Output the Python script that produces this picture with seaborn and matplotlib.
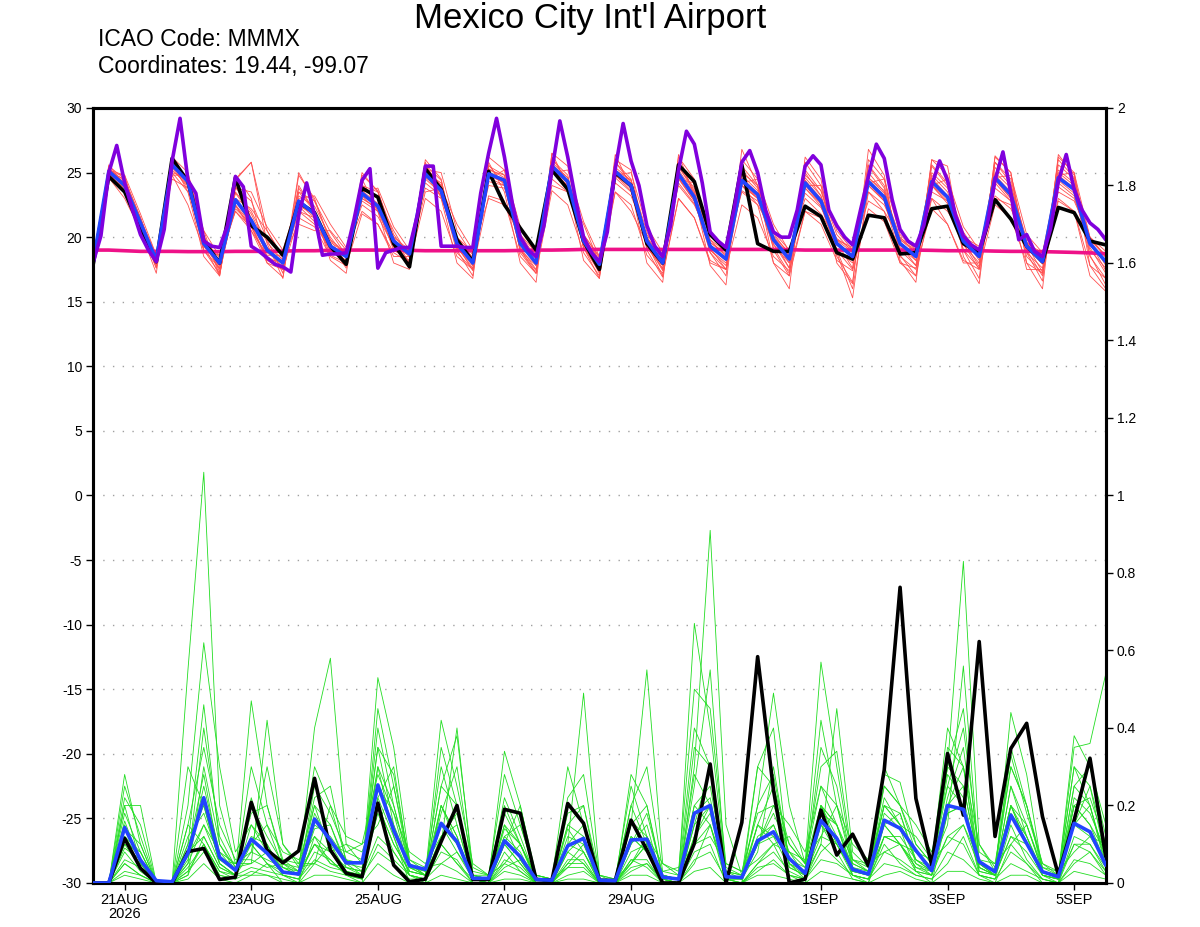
import numpy as np
import pandas as pd
import matplotlib
matplotlib.use('Agg')
import matplotlib.pyplot as plt
import seaborn as sns

# ---------------- data ----------------
start = '2026-08-20 12:00'
times6 = pd.date_range(start, periods=65, freq='6h')
times3 = pd.date_range(start, periods=129, freq='3h')

temp_control = [17.8, 24.7, 23.5, 20.7, 18.1, 26.1, 24.3, 19.7, 18.0, 24.6, 20.9, 20.0, 18.6, 22.7, 21.9, 19.3,
                17.9, 23.8, 23.1, 19.5, 17.7, 25.3, 23.7, 19.8, 18.1, 25.1, 22.5, 20.7, 19.0, 25.2, 23.7, 19.7,
                17.5, 25.0, 24.0, 19.5, 18.0, 25.6, 24.3, 20.2, 19.0, 25.6, 19.5, 18.9, 18.9, 22.4, 21.6, 18.8,
                18.3, 21.7, 21.5, 18.7, 18.8, 22.2, 22.4, 19.5, 18.8, 22.9, 21.4, 19.3, 18.1, 22.3, 21.9, 19.7, 19.4]

temp_mean = [18.0, 25.1, 24.0, 21.1, 18.2, 25.6, 24.3, 19.5, 18.0, 22.9, 21.3, 19.0, 18.0, 22.8, 21.8, 19.3,
             18.5, 23.4, 22.4, 19.7, 18.7, 24.9, 23.6, 19.5, 18.0, 24.9, 24.4, 19.5, 18.0, 25.5, 24.3, 19.7,
             17.9, 25.1, 24.0, 19.7, 18.0, 24.9, 23.1, 19.3, 18.3, 24.4, 23.3, 19.8, 18.3, 24.2, 22.8, 19.5,
             18.5, 24.3, 23.1, 19.5, 18.5, 24.3, 23.1, 19.7, 18.5, 24.6, 23.3, 19.3, 18.1, 24.6, 23.7, 19.5, 18.1]

temp_hires = [18.0, 20.1, 25.0, 27.1, 24.2, 22.1, 20.2, 19.0, 18.1, 20.6, 25.9, 29.2, 24.4, 23.4, 19.7, 19.3,
              19.2, 20.9, 24.7, 23.9, 19.3, 18.9, 18.4, 17.9, 17.7, 17.3, 21.7, 24.2, 21.7, 18.6, 18.7, 18.7,
              18.8, 21.4, 24.4, 25.3, 17.6, 18.8, 19.0, 19.2, 19.2, 21.7, 25.5, 25.5, 19.3, 19.3, 19.3, 19.2,
              19.2, 23.4, 26.5, 29.2, 26.2, 22.6, 20.0, 19.0, 18.5, 20.9, 25.2, 29.0, 26.2, 22.9, 20.0, 18.8,
              18.1, 20.4, 25.3, 28.8, 25.9, 24.0, 20.9, 19.3, 18.5, 20.9, 25.2, 28.2, 27.2, 24.2, 20.4, 19.7,
              19.2, 22.1, 25.8, 26.7, 25.0, 22.1, 20.4, 20.0, 20.0, 22.1, 25.5, 26.3, 25.6, 22.1, 20.9, 20.0,
              19.4, 22.1, 24.7, 27.2, 26.1, 22.9, 20.6, 19.7, 19.3, 20.9, 24.0, 25.9, 24.4, 21.7, 20.1, 19.4,
              19.0, 20.9, 24.4, 26.6, 23.4, 19.8, 20.2, 18.9, 18.5, 20.6, 24.3, 26.4, 23.7, 22.1, 21.1, 20.6, 19.8]

temp_clim = [19.0, 19.0, 18.95, 18.9, 18.9, 18.9, 18.88, 18.88, 18.88, 18.9, 18.9, 18.9, 18.92, 18.95, 18.95, 18.98,
             19.0, 19.0, 19.0, 19.0, 18.98, 18.95, 18.95, 18.95, 18.95, 18.95, 18.95, 18.97, 19.0, 19.0, 19.02, 19.05,
             19.05, 19.05, 19.05, 19.05, 19.05, 19.05, 19.05, 19.05, 19.05, 19.05, 19.05, 19.05, 19.03, 19.0, 19.0, 19.0,
             19.0, 19.0, 19.0, 19.0, 19.0, 18.98, 18.95, 18.95, 18.95, 18.92, 18.9, 18.9, 18.88, 18.85, 18.82, 18.78, 18.72]

precip_control = [0, 0, 0.115, 0.038, 0.0, 0.0, 0.081, 0.089, 0.009, 0.015, 0.208, 0.085, 0.052, 0.083, 0.27, 0.085,
                  0.025, 0.016, 0.206, 0.046, 0.003, 0.01, 0.107, 0.2, 0.009, 0.009, 0.19, 0.18, 0.009, 0.007, 0.205, 0.154,
                  0.007, 0.006, 0.162, 0.085, 0, 0, 0.102, 0.307, 0, 0.156, 0.584, 0.24, 0.0, 0.01, 0.188, 0.072,
                  0.126, 0.044, 0.292, 0.763, 0.218, 0.046, 0.334, 0.175, 0.623, 0.12, 0.347, 0.412, 0.171, 0.021, 0.162, 0.322, 0.068]

precip_mean = [0, 0, 0.143, 0.059, 0.006, 0.003, 0.077, 0.22, 0.066, 0.033, 0.113, 0.077, 0.028, 0.023, 0.165, 0.11,
               0.052, 0.052, 0.253, 0.136, 0.045, 0.035, 0.154, 0.107, 0.012, 0.012, 0.109, 0.068, 0.009, 0.007, 0.096, 0.115,
               0.007, 0.006, 0.111, 0.113, 0.015, 0.01, 0.18, 0.2, 0.016, 0.014, 0.109, 0.132, 0.063, 0.025, 0.161, 0.115,
               0.035, 0.023, 0.162, 0.141, 0.084, 0.032, 0.2, 0.19, 0.055, 0.029, 0.175, 0.102, 0.029, 0.016, 0.154, 0.132, 0.046]

# temperature ensemble members
temp_m01 = [17.8,25.3,24.2,21.0, 18.0,25.9,24.6,19.8, 17.6,24.0,21.5,19.2, 17.5,23.5,22.0,19.0, 18.2,24.0,23.0,19.5, 18.5,25.5,24.0,19.2, 17.6,25.5,24.8,19.2, 17.5,26.0,24.8,19.4, 17.2,25.8,24.5,19.5, 17.4,25.5,23.5,19.0, 17.8,25.2,23.8,19.5, 17.6,25.0,23.2,19.0, 17.5,25.5,23.8,19.0, 17.8,25.5,24.0,19.5, 17.5,25.8,24.2,19.0, 17.0,25.6,24.5,19.2, 17.2]
temp_m02 = [18.2,24.8,23.8,21.2, 18.4,25.2,24.0,19.4, 18.2,22.0,20.8,18.5, 17.8,22.0,21.5,19.8, 18.8,22.8,22.0,19.8, 18.9,24.2,23.2,19.8, 18.3,24.3,24.0,19.8, 18.3,25.0,24.0,20.0, 18.2,24.6,23.5,19.9, 18.4,24.2,22.6,19.6, 18.7,23.6,22.8,20.1, 18.8,23.4,22.3,19.9, 19.0,23.5,22.5,19.8, 19.0,23.5,22.8,20.0, 19.0,23.8,22.8,19.6, 18.6,23.9,23.0,19.8, 18.6]
temp_m03 = [18.0,25.5,24.5,21.5, 17.8,26.2,25.0,20.2, 17.3,24.4,25.8,19.5, 16.8,24.8,23.0,19.5, 17.6,25.0,23.5,20.0, 18.0,26.0,24.5,19.0, 17.0,26.2,25.2,18.8, 17.2,26.5,25.5,19.2, 16.8,26.0,25.2,19.0, 16.9,26.2,24.5,18.8, 17.0,26.0,24.5,19.0, 17.0,25.8,24.0,18.5, 16.5,26.0,24.5,18.6, 17.0,26.0,24.8,19.0, 16.8,26.2,25.0,18.8, 16.6,26.2,25.0,18.6, 16.3]
temp_m04 = [17.9,24.9,23.6,20.8, 18.5,24.5,23.8,19.0, 18.6,22.0,20.5,18.6, 18.6,22.0,21.0,19.0, 19.0,22.5,21.6,19.3, 19.2,23.8,23.0,20.0, 18.8,24.0,23.8,20.2, 18.8,24.5,23.5,20.2, 18.5,24.2,23.2,20.2, 18.6,24.0,22.5,19.8, 18.9,23.5,22.5,20.4, 19.0,23.0,21.8,19.8, 19.2,22.8,22.0,19.9, 19.2,23.0,22.0,20.0, 19.3,23.2,22.2,19.5, 18.8,23.5,22.8,20.0, 18.9]
temp_m05 = [18.1,25.2,24.2,21.2, 18.0,25.8,24.5,19.6, 17.8,23.5,22.0,19.6, 18.2,23.2,22.4,20.0, 18.4,23.8,23.0,20.5, 18.4,25.2,24.0,19.6, 17.8,25.0,24.5,19.6, 17.8,25.8,24.6,19.8, 17.6,25.4,24.4,20.0, 17.9,25.2,23.4,19.4, 18.2,24.8,23.6,19.8, 18.0,24.6,23.2,19.8, 18.3,24.6,23.6,19.6, 18.2,24.8,23.5,20.0, 18.2,25.0,23.8,19.4, 17.9,25.0,24.0,19.8, 17.8]
temp_m06 = [17.7,25.0,23.9,20.9, 18.3,25.6,24.2,19.2, 18.8,22.4,20.8,18.2, 17.5,22.4,21.8,18.6, 18.0,23.0,22.2,19.0, 18.2,24.8,23.4,18.8, 17.5,24.8,24.2,19.0, 17.2,25.2,24.0,19.2, 17.5,25.0,24.0,19.2, 17.6,24.6,22.8,18.8, 17.5,24.4,23.0,19.2, 17.2,24.0,22.6,18.8, 15.3,24.2,22.8,18.5, 17.5,24.0,22.8,19.0, 17.6,24.5,23.0,18.5, 17.2,24.8,23.6,18.5, 16.8]
temp_m07 = [18.3,25.4,24.0,21.0, 18.2,25.4,23.8,19.5, 17.5,22.5,21.0,18.2, 18.2,23.8,22.0,19.2, 18.8,23.6,22.6,19.8, 18.8,24.6,23.8,19.5, 18.2,25.3,24.6,19.5, 18.0,25.6,24.2,19.6, 18.0,25.2,23.8,19.5, 18.2,24.8,23.0,19.2, 18.4,24.2,23.0,19.8, 18.5,24.4,23.0,19.5, 18.5,24.6,23.4,19.6, 18.6,24.6,23.2,19.8, 18.6,24.8,23.5,19.2, 18.2,24.8,23.8,19.5, 18.2]
temp_m08 = [17.6,24.8,23.8,21.5, 18.0,25.0,24.6,20.0, 17.8,23.0,22.2,20.5, 18.4,23.5,22.8,20.4, 18.6,24.0,23.5,20.2, 18.6,25.0,24.2,20.0, 18.4,25.2,24.8,20.2, 18.4,25.6,24.6,20.2, 18.4,25.2,24.4,20.4, 18.2,25.4,23.8,19.8, 18.5,25.0,24.0,20.3, 18.6,24.8,23.6,20.2, 18.8,25.0,23.5,20.0, 18.8,25.0,23.8,20.4, 18.6,25.4,24.0,19.8, 18.4,25.2,24.2,20.0, 18.4]
temp_m09 = [18.0,25.0,24.0,21.0, 17.6,25.5,24.0,19.0, 17.2,22.8,21.0,18.8, 17.9,22.4,21.2,19.0, 18.2,23.2,22.0,19.2, 18.6,24.8,23.2,19.2, 17.8,24.6,24.0,19.0, 17.8,25.4,24.2,19.2, 17.8,24.8,23.6,19.2, 17.8,24.6,22.8,19.0, 18.0,24.0,23.0,19.4, 18.0,23.8,22.4,19.0, 18.0,24.0,22.8,19.2, 18.2,24.0,22.6,19.4, 18.0,24.2,22.8,18.8, 17.6,24.2,23.2,19.0, 17.6]
temp_m10 = [18.2,25.2,24.4,21.4, 18.6,25.7,24.4,19.8, 18.4,23.4,21.8,19.2, 18.3,22.6,21.5,19.6, 18.8,23.0,22.2,20.0, 19.0,24.5,23.4,19.8, 18.4,24.8,24.2,19.8, 18.4,25.2,24.2,20.0, 18.2,24.8,23.8,20.0, 18.4,24.5,22.8,19.6, 18.6,24.0,23.0,20.0, 18.6,23.8,22.6,19.8, 18.8,24.0,22.8,19.8, 18.8,24.0,23.0,20.0, 18.9,24.4,23.0,19.6, 18.5,24.4,23.4,19.8, 18.5]
temp_m11 = [17.9,24.9,24.0,20.9, 18.1,25.5,24.2,19.6, 18.0,22.2,21.0,19.0, 18.0,22.8,21.6,19.2, 18.5,23.2,22.4,19.6, 18.6,25.0,23.6,19.4, 18.0,25.0,24.4,19.5, 17.9,25.5,24.4,19.8, 17.8,25.2,24.0,19.8, 18.0,25.0,23.2,19.2, 18.2,24.6,23.4,19.8, 18.2,24.4,22.8,19.4, 18.4,24.4,23.2,19.5, 18.4,24.4,23.2,19.7, 18.4,24.6,23.4,19.2, 18.0,24.6,23.8,19.4, 18.0]
temp_m12 = [18.0,25.0,24.5,21.5, 18.2,25.0,23.5,20.5, 17.0,24.5,25.8,20.5, 18.5,21.0,20.5,20.5, 19.0,22.0,21.0,18.5, 18.5,23.5,23.8,21.0, 19.0,23.0,22.5,20.0, 17.8,24.0,23.5,21.0, 18.0,23.5,22.0,19.5, 17.0,23.0,21.5,18.0, 17.5,24.0,22.5,18.0, 17.0,22.0,21.5,19.0, 16.0,23.5,22.0,18.0, 17.0,23.0,21.0,18.0, 18.0,23.0,22.5,17.5, 17.5,23.0,22.0,17.0, 15.8]
temp_m13 = [17.5,25.2,24.8,20.5, 17.2,25.8,23.5,18.5, 17.0,24.8,23.0,18.0, 16.9,24.0,22.0,18.2, 17.2,24.5,22.0,18.0, 17.5,25.8,23.0,18.0, 16.8,25.8,23.5,18.0, 16.5,26.5,24.0,18.2, 16.8,26.4,23.8,18.0, 16.5,26.4,23.2,17.8, 16.3,26.8,24.0,18.0, 16.0,26.2,24.5,18.0, 16.4,26.8,24.8,18.2, 16.5,26.0,25.5,18.5, 16.4,26.3,25.0,18.0, 16.0,26.4,24.8,17.8, 16.0]
temp_m14 = [18.4,25.0,24.8,21.8, 18.6,24.8,24.8,20.5, 18.5,23.8,23.5,20.8, 19.0,23.0,23.2,21.0, 19.2,23.5,23.8,20.8, 19.0,25.2,25.0,20.5, 18.6,24.5,25.2,20.8, 18.6,25.0,25.2,21.2, 18.5,24.8,25.0,20.8, 18.8,24.5,24.2,20.5, 18.8,24.2,24.5,21.0, 18.9,24.0,24.0,20.5, 19.0,24.2,24.5,20.2, 19.0,24.0,24.5,20.8, 19.0,24.6,24.8,20.2, 18.8,24.8,25.0,20.0, 18.5]
temp_m15 = [17.9,24.6,23.0,20.5, 17.8,24.8,22.5,19.0, 17.6,22.5,20.5,18.0, 17.5,21.5,20.8,18.5, 17.8,21.8,21.0,18.8, 18.0,23.0,22.0,18.5, 17.5,23.2,22.8,18.5, 17.2,23.6,22.5,18.8, 17.0,23.5,22.5,18.6, 17.2,23.0,21.5,18.2, 17.5,22.5,21.5,18.5, 17.4,22.0,21.0,18.2, 17.4,22.2,21.2,18.0, 17.6,22.2,21.0,18.2, 17.5,22.5,21.5,18.0, 17.2,22.8,22.0,17.8, 16.8]
temp_m16 = [18.1,25.6,24.0,20.6, 17.6,26.0,24.2,19.4, 17.0,23.8,22.8,19.8, 17.2,25.0,22.8,19.8, 18.0,24.8,23.6,19.6, 18.0,25.6,24.4,19.4, 17.4,25.6,24.0,19.0, 17.4,26.2,24.2,19.2, 17.3,25.8,24.2,19.6, 17.5,25.8,23.6,19.2, 17.5,25.5,24.0,19.8, 17.6,25.2,23.6,19.6, 17.6,25.6,24.0,19.4, 17.8,25.6,24.2,19.8, 17.7,25.8,24.5,19.4, 17.3,26.0,24.6,19.6, 17.4]
temp_members = [temp_m01, temp_m02, temp_m03, temp_m04, temp_m05, temp_m06, temp_m07, temp_m08,
                temp_m09, temp_m10, temp_m11, temp_m12, temp_m13, temp_m14, temp_m15, temp_m16]

# precipitation ensemble members
prcp_m01 = [0,0,0.05,0.02, 0,0,0.55,1.06, 0.2,0.05,0.1,0.05, 0,0,0.12,0.08, 0.02,0,0.3,0.12, 0,0,0.1,0.05, 0,0,0.08,0.03, 0,0,0.05,0.1, 0,0,0.06,0.04, 0,0,0.12,0.2, 0,0,0.05,0.1, 0.02,0,0.15,0.08, 0.01,0,0.12,0.1, 0.03,0,0.18,0.2, 0.02,0,0.1,0.05, 0,0,0.12,0.1, 0.03]
prcp_m02 = [0,0,0.1,0.04, 0,0,0.2,0.62, 0.3,0.08,0.15,0.1, 0.02,0,0.18,0.1, 0.03,0.01,0.25,0.15, 0.02,0,0.2,0.12, 0,0,0.1,0.05, 0,0,0.08,0.12, 0,0,0.1,0.15, 0,0,0.3,0.91, 0.15,0.02,0.1,0.15, 0.05,0.01,0.2,0.1, 0.02,0,0.15,0.1, 0.05,0.02,0.2,0.25, 0.05,0.02,0.25,0.12, 0.03,0.01,0.15,0.2, 0.05]
prcp_m03 = [0,0,0.28,0.1, 0,0,0.1,0.46, 0.1,0.03,0.2,0.12, 0.05,0.02,0.1,0.05, 0.04,0.03,0.4,0.2, 0.05,0.02,0.15,0.1, 0.02,0.01,0.12,0.08, 0,0,0.15,0.2, 0,0,0.05,0.1, 0.01,0,0.15,0.3, 0.02,0.01,0.2,0.49, 0.2,0.05,0.2,0.15, 0.03,0.02,0.2,0.18, 0.05,0.03,0.3,0.83, 0.1,0.03,0.2,0.1, 0.02,0,0.2,0.15, 0.08]
prcp_m04 = [0,0,0.2,0.2, 0,0,0.05,0.15, 0.05,0.02,0.47,0.2, 0.05,0.03,0.4,0.58, 0.1,0.05,0.2,0.1, 0.03,0.02,0.42,0.25, 0.05,0.02,0.2,0.1, 0.01,0,0.1,0.08, 0,0,0.15,0.55, 0.05,0.02,0.2,0.15, 0.03,0.01,0.1,0.2, 0.1,0.05,0.57,0.3, 0.05,0.03,0.25,0.2, 0.1,0.05,0.4,0.3, 0.05,0.03,0.3,0.2, 0.03,0.02,0.15,0.25, 0.1]
prcp_m05 = [0,0,0.15,0.05, 0,0,0.02,0.3, 0.1,0.04,0.05,0.42, 0.1,0.05,0.2,0.15, 0.05,0.02,0.53,0.35, 0.06,0.03,0.1,0.4, 0.02,0.01,0.34,0.2, 0.02,0.01,0.3,0.15, 0.01,0,0.28,0.2, 0.02,0.01,0.67,0.4, 0.03,0.02,0.3,0.25, 0.05,0.02,0.1,0.45, 0.08,0.04,0.28,0.26, 0.1,0.05,0.15,0.56, 0.05,0.02,0.44,0.28, 0.03,0.02,0.35,0.36, 0.54]
prcp_m06 = [0,0,0.12,0.06, 0,0,0.1,0.2, 0.05,0.02,0.1,0.05, 0.02,0.01,0.15,0.12, 0.06,0.05,0.35,0.15, 0.05,0.03,0.2,0.1, 0.01,0,0.15,0.1, 0,0,0.12,0.1, 0.01,0,0.12,0.08, 0.02,0.01,0.2,0.25, 0.02,0.01,0.12,0.15, 0.05,0.03,0.2,0.12, 0.05,0.03,0.2,0.15, 0.08,0.04,0.25,0.2, 0.05,0.03,0.2,0.1, 0.02,0.01,0.2,0.15, 0.05]
prcp_m07 = [0,0,0.05,0.02, 0,0,0.03,0.08, 0.02,0.01,0.03,0.02, 0.01,0,0.05,0.03, 0.02,0.01,0.1,0.06, 0.02,0.01,0.05,0.03, 0,0,0.03,0.02, 0,0,0.02,0.03, 0,0,0.04,0.05, 0,0,0.06,0.08, 0.01,0,0.04,0.05, 0.02,0.01,0.06,0.05, 0.02,0.01,0.05,0.04, 0.02,0.01,0.08,0.06, 0.02,0.01,0.05,0.03, 0.01,0,0.06,0.05, 0.02]
prcp_m08 = [0,0,0.18,0.08, 0,0,0.06,0.25, 0.08,0.03,0.12,0.1, 0.03,0.02,0.25,0.18, 0.08,0.06,0.3,0.2, 0.04,0.02,0.25,0.2, 0.02,0.01,0.18,0.1, 0.01,0,0.1,0.49, 0.02,0,0.2,0.1, 0.02,0.01,0.35,0.3, 0.03,0.02,0.15,0.1, 0.12,0.05,0.3,0.34, 0.06,0.04,0.2,0.15, 0.12,0.06,0.3,0.25, 0.05,0.02,0.25,0.15, 0.03,0.02,0.3,0.2, 0.06]
prcp_m09 = [0,0,0.08,0.03, 0,0,0.12,0.18, 0.06,0.05,0.08,0.06, 0.04,0.03,0.1,0.08, 0.1,0.08,0.2,0.1, 0.03,0.02,0.15,0.08, 0.01,0,0.06,0.04, 0,0,0.06,0.06, 0,0,0.08,0.1, 0.01,0,0.1,0.15, 0.01,0.01,0.1,0.12, 0.08,0.02,0.12,0.1, 0.03,0.02,0.12,0.12, 0.06,0.03,0.12,0.15, 0.04,0.02,0.12,0.08, 0.02,0.01,0.1,0.1, 0.04]
prcp_m10 = [0,0,0.25,0.12, 0,0,0.08,0.12, 0.04,0.02,0.3,0.15, 0.08,0.06,0.12,0.05, 0.03,0.02,0.45,0.25, 0.04,0.03,0.3,0.15, 0.01,0.01,0.22,0.12, 0.01,0,0.05,0.05, 0,0,0.05,0.12, 0.01,0,0.12,0.18, 0.01,0.01,0.08,0.3, 0.06,0.04,0.42,0.2, 0.04,0.02,0.15,0.1, 0.04,0.03,0.2,0.3, 0.1,0.04,0.33,0.18, 0.05,0.02,0.25,0.3, 0.12]
prcp_m11 = [0,0,0.02,0.01, 0,0,0.01,0.05, 0.01,0,0.02,0.02, 0,0,0.02,0.02, 0.01,0,0.05,0.02, 0,0,0.02,0.01, 0,0,0.01,0.01, 0,0,0.01,0.01, 0,0,0.02,0.02, 0,0,0.03,0.04, 0,0,0.02,0.02, 0.01,0,0.03,0.02, 0.01,0,0.02,0.03, 0.01,0,0.03,0.03, 0.01,0,0.02,0.02, 0,0,0.03,0.02, 0.01]
prcp_m12 = [0,0,0.14,0.1, 0,0,0.15,0.35, 0.15,0.06,0.06,0.04, 0.05,0.04,0.3,0.2, 0.12,0.1,0.28,0.18, 0.08,0.05,0.12,0.18, 0.03,0.02,0.12,0.15, 0.02,0.01,0.18,0.2, 0.02,0.01,0.25,0.12, 0.05,0.03,0.5,0.45, 0.05,0.03,0.18,0.2, 0.15,0.08,0.25,0.2, 0.1,0.06,0.25,0.2, 0.15,0.08,0.25,0.4, 0.08,0.05,0.3,0.2, 0.05,0.03,0.2,0.22, 0.1]
prcp_m13 = [0,0,0.22,0.15, 0,0,0.04,0.1, 0.02,0.01,0.15,0.08, 0.02,0.01,0.08,0.06, 0.02,0.01,0.22,0.12, 0.02,0.01,0.35,0.2, 0.01,0,0.15,0.06, 0,0,0.2,0.15, 0,0,0.15,0.2, 0.01,0,0.15,0.2, 0.01,0,0.3,0.4, 0.04,0.02,0.2,0.15, 0.02,0.01,0.18,0.14, 0.03,0.02,0.35,0.3, 0.03,0.02,0.2,0.12, 0.02,0.01,0.25,0.2, 0.04]
prcp_m14 = [0,0,0.1,0.08, 0,0,0.07,0.15, 0.08,0.05,0.05,0.08, 0.06,0.05,0.05,0.1, 0.08,0.1,0.15,0.25, 0.06,0.04,0.05,0.08, 0.02,0.02,0.05,0.1, 0.02,0.01,0.04,0.08, 0.01,0.01,0.05,0.1, 0.03,0.04,0.1,0.12, 0.05,0.03,0.06,0.1, 0.08,0.06,0.12,0.2, 0.06,0.05,0.08,0.1, 0.08,0.06,0.1,0.15, 0.06,0.05,0.1,0.15, 0.04,0.03,0.08,0.12, 0.1]
prcp_m15 = [0,0,0.06,0.04, 0,0,0.03,0.1, 0.03,0.02,0.04,0.03, 0.02,0.01,0.06,0.04, 0.03,0.02,0.12,0.08, 0.02,0.01,0.08,0.06, 0,0,0.05,0.03, 0,0,0.04,0.04, 0,0,0.06,0.06, 0,0,0.08,0.1, 0,0,0.05,0.08, 0.03,0.01,0.1,0.06, 0.02,0.01,0.08,0.06, 0.03,0.02,0.12,0.1, 0.02,0.01,0.08,0.05, 0.01,0,0.1,0.08, 0.03]
prcp_m16 = [0,0,0.16,0.05, 0,0,0.05,0.4, 0.12,0.04,0.1,0.15, 0.04,0.02,0.2,0.08, 0.04,0.03,0.22,0.3, 0.04,0.02,0.18,0.3, 0.02,0.01,0.1,0.2, 0.01,0,0.15,0.12, 0.01,0,0.1,0.18, 0.02,0.01,0.25,0.55, 0.02,0.01,0.15,0.25, 0.1,0.05,0.25,0.15, 0.04,0.03,0.15,0.18, 0.06,0.04,0.22,0.35, 0.04,0.02,0.2,0.15, 0.03,0.02,0.3,0.25, 0.06]
prcp_m17 = [0,0,0.2,0.05, 0,0,0.3,0.2, 0.05,0.02,0.08,0.3, 0.1,0.04,0.05,0.2, 0.06,0.03,0.35,0.28, 0.05,0.02,0.25,0.38, 0.04,0.02,0.28,0.15, 0.02,0.01,0.22,0.28, 0.02,0.01,0.2,0.3, 0.03,0.02,0.4,0.3, 0.04,0.02,0.2,0.28, 0.06,0.03,0.35,0.25, 0.04,0.02,0.3,0.2, 0.08,0.04,0.3,0.45, 0.05,0.03,0.35,0.2, 0.04,0.02,0.38,0.3, 0.15]
prcp_m18 = [0,0,0.12,0.08, 0,0,0.08,0.28, 0.06,0.03,0.18,0.2, 0.06,0.03,0.22,0.25, 0.05,0.04,0.25,0.18, 0.03,0.02,0.12,0.15, 0.01,0,0.14,0.1, 0.01,0,0.1,0.15, 0.01,0,0.16,0.12, 0.02,0.01,0.28,0.2, 0.02,0.01,0.1,0.18, 0.08,0.04,0.18,0.15, 0.06,0.03,0.22,0.15, 0.06,0.03,0.28,0.22, 0.04,0.02,0.18,0.12, 0.02,0.01,0.22,0.18, 0.08]
prcp_m19 = [0,0,0.03,0.02, 0,0,0.02,0.12, 0.04,0.02,0.02,0.05, 0.03,0.02,0.1,0.06, 0.02,0.02,0.08,0.05, 0.01,0.01,0.1,0.05, 0.01,0,0.04,0.06, 0,0,0.08,0.05, 0,0,0.03,0.05, 0.01,0,0.05,0.15, 0,0,0.03,0.06, 0.02,0.01,0.08,0.12, 0.02,0.01,0.1,0.05, 0.02,0.01,0.05,0.12, 0.02,0.01,0.15,0.06, 0.01,0,0.05,0.08, 0.02]
prcp_m20 = [0,0,0.09,0.06, 0,0,0.15,0.1, 0.03,0.01,0.22,0.08, 0.04,0.02,0.14,0.15, 0.04,0.02,0.18,0.08, 0.02,0.01,0.2,0.12, 0.01,0,0.1,0.05, 0,0,0.14,0.08, 0,0,0.12,0.08, 0.01,0,0.18,0.22, 0.01,0,0.15,0.12, 0.04,0.02,0.15,0.1, 0.03,0.02,0.12,0.1, 0.04,0.02,0.18,0.2, 0.03,0.02,0.12,0.1, 0.02,0.01,0.15,0.12, 0.05]
prcp_members = [prcp_m01, prcp_m02, prcp_m03, prcp_m04, prcp_m05, prcp_m06, prcp_m07, prcp_m08, prcp_m09, prcp_m10,
                prcp_m11, prcp_m12, prcp_m13, prcp_m14, prcp_m15, prcp_m16, prcp_m17, prcp_m18, prcp_m19, prcp_m20]

tick_dates = ['2026-08-21', '2026-08-23', '2026-08-25', '2026-08-27', '2026-08-29',
              '2026-09-01', '2026-09-03', '2026-09-05']
tick_labels = ['21AUG\n2026', '23AUG', '25AUG', '27AUG', '29AUG', '1SEP', '3SEP', '5SEP']
left_ticks = [30, 25, 20, 15, 10, 5, 0, -5, -10, -15, -20, -25, -30]
right_ticks = [0, 0.2, 0.4, 0.6, 0.8, 1.0, 1.2, 1.4, 1.6, 1.8, 2.0]
right_labels = ['0', '0.2', '0.4', '0.6', '0.8', '1', '1.2', '1.4', '1.6', '1.8', '2']

# ---------------- build frames ----------------
temp_ens_df = pd.concat([pd.DataFrame({'time': times6, 'value': m, 'member': k})
                         for k, m in enumerate(temp_members)], ignore_index=True)
prcp_ens_df = pd.concat([pd.DataFrame({'time': times6, 'value': m, 'member': k})
                         for k, m in enumerate(prcp_members)], ignore_index=True)

# ---------------- plot ----------------
sns.set_theme(style='white')
plt.rcParams['font.family'] = ['Liberation Sans', 'DejaVu Sans']
plt.rcParams['text.color'] = 'black'

fig = plt.figure(figsize=(12, 9.27), dpi=100)
ax = fig.add_axes([0.0775, 0.0475, 0.844, 0.836])
ax2 = ax.twinx()

for yv in [25, 20, 15, 10, 5, 0, -5, -10, -15, -20, -25]:
    ax.axhline(yv, color='#a0a0a0', lw=1.0, ls=(0, (1, 6)), zorder=0)

sns.lineplot(data=temp_ens_df, x='time', y='value', units='member', estimator=None,
             color='#ff5050', linewidth=0.6, ax=ax, legend=False, zorder=2)
sns.lineplot(x=times6, y=temp_clim, color='#ee1188', linewidth=2.6, ax=ax, zorder=3)
sns.lineplot(x=times6, y=temp_control, color='black', linewidth=2.6, ax=ax, zorder=4)
sns.lineplot(x=times6, y=temp_mean, color='#2244ff', linewidth=2.6, ax=ax, zorder=5)
sns.lineplot(x=times3, y=temp_hires, color='#8000dd', linewidth=2.6, ax=ax, zorder=6)

sns.lineplot(data=prcp_ens_df, x='time', y='value', units='member', estimator=None,
             color='#22dd22', linewidth=0.6, ax=ax2, legend=False, zorder=2)
sns.lineplot(x=times6, y=precip_control, color='black', linewidth=2.6, ax=ax2, zorder=4)
sns.lineplot(x=times6, y=precip_mean, color='#2244ff', linewidth=2.6, ax=ax2, zorder=5)

t0 = pd.Timestamp('2026-08-20 12:00')
t1 = pd.Timestamp('2026-09-05 12:00')
ax.set_xlim(t0, t1)
ax.set_ylim(-30, 30)
ax2.set_ylim(0, 2)

ax.set_xticks(pd.to_datetime(tick_dates))
ax.set_xticklabels(tick_labels, fontsize=10.5, linespacing=1.05)
ax.set_yticks(left_ticks)
ax.set_yticklabels([str(v) for v in left_ticks], fontsize=10)
ax2.set_yticks(right_ticks)
ax2.set_yticklabels(right_labels, fontsize=10)

ax.set_xlabel('')
ax.set_ylabel('')
ax2.set_xlabel('')
ax2.set_ylabel('')
ax.grid(False)
ax2.grid(False)

ax.tick_params(axis='x', bottom=True, direction='out', length=5, width=1, pad=2, colors='black')
ax.tick_params(axis='y', left=True, direction='out', length=5, width=1, pad=3, colors='black')
ax2.tick_params(axis='y', right=True, direction='out', length=5, width=1, pad=3, colors='black')

for a in (ax, ax2):
    for s in a.spines.values():
        s.set_color('black')
        s.set_linewidth(2.2)

fig.text(0.4917, 0.980, "Mexico City Int'l Airport", ha='center', va='center', fontsize=25, color='black')
fig.text(0.0817, 0.957, "ICAO Code: MMMX", ha='left', va='center', fontsize=16.5, color='black')
fig.text(0.0817, 0.928, "Coordinates: 19.44, -99.07", ha='left', va='center', fontsize=16.5, color='black')

fig.savefig('out.png', dpi=100)
